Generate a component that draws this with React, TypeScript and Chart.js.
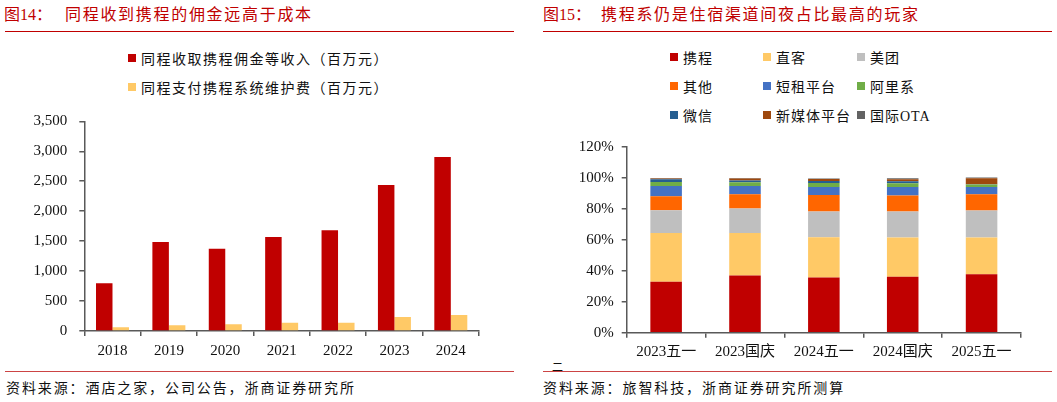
import { useEffect, useRef } from 'react';
import { Chart, registerables } from 'chart.js';

Chart.register(...registerables);

// left panel: 同程 vs 携程
const years = ['2018', '2019', '2020', '2021', '2022', '2023', '2024'];
const commission = [795, 1485, 1374, 1568, 1680, 2436, 2903];
const systemFee = [61, 95, 111, 139, 139, 234, 267];
const leftTicks = [0, 500, 1000, 1500, 2000, 2500, 3000, 3500];

// right panel: 间夜占比 (%)
const periods = ['2023五一', '2023国庆', '2024五一', '2024国庆', '2025五一'];
const ctrip = [32.9, 37.0, 35.7, 36.1, 37.7];
const direct = [31.6, 27.5, 26.0, 25.4, 23.8];
const meituan = [14.7, 15.8, 16.7, 16.9, 17.5];
const others = [8.9, 9.1, 10.6, 10.3, 10.4];
const shortRent = [6.7, 5.4, 5.2, 5.5, 4.8];
const alibaba = [2.6, 2.4, 2.6, 2.3, 1.5];
const wechat = [1.7, 1.1, 1.3, 1.3, 0.3];
const newMedia = [0.5, 1.3, 1.3, 1.3, 3.8];
const intlOta = [0.4, 0.4, 0.3, 0.7, 0.5];

const RED = '#c00000';
const TICK_FONT = { family: "'Liberation Serif', 'Noto Sans CJK SC', serif", size: 15 };
const TEXT_FONT = "'Liberation Serif', 'Noto Sans CJK SC', serif";
const AXIS = '#595959';

const stackSeries = [
  { label: '携程', data: ctrip, color: '#c00000' },
  { label: '直客', data: direct, color: '#ffc966' },
  { label: '美团', data: meituan, color: '#bfbfbf' },
  { label: '其他', data: others, color: '#ff6600' },
  { label: '短租平台', data: shortRent, color: '#4472c4' },
  { label: '阿里系', data: alibaba, color: '#70ad47' },
  { label: '微信', data: wechat, color: '#255e91' },
  { label: '新媒体平台', data: newMedia, color: '#9e480e' },
  { label: '国际OTA', data: intlOta, color: '#636363' },
];

function axisBase(yWidth: number, xHeight: number) {
  return {
    x: {
      grid: { display: true, drawOnChartArea: false, drawTicks: true, tickLength: 5, color: AXIS, lineWidth: 1.5 },
      border: { display: true, color: AXIS, width: 1.5 },
      ticks: { font: TICK_FONT, color: '#111', padding: 6, maxRotation: 0, autoSkip: false },
      afterFit: (s: any) => { s.height = xHeight; },
    },
    y: {
      grid: { display: true, drawOnChartArea: false, drawTicks: true, tickLength: 5, color: AXIS, lineWidth: 1.5 },
      border: { display: true, color: AXIS, width: 1.5 },
      // fixed width; keep label padding from pushing the plot area down
      afterFit: (s: any) => { s.width = yWidth; s.paddingTop = 9; s.paddingBottom = 9; },
    },
  };
}

function LeftChart() {
  const ref = useRef<HTMLCanvasElement>(null);
  useEffect(() => {
    if (!ref.current) return;
    const base = axisBase(84.3, 29);
    const chart = new Chart(ref.current, {
      type: 'bar',
      data: {
        labels: years,
        datasets: [
          { label: '同程收取携程佣金等收入（百万元）', data: commission, backgroundColor: RED, categoryPercentage: 0.585, barPercentage: 1 },
          { label: '同程支付携程系统维护费（百万元）', data: systemFee, backgroundColor: '#ffc966', categoryPercentage: 0.585, barPercentage: 1 },
        ],
      },
      options: {
        responsive: false,
        animation: false,
        layout: { padding: { top: 11.3, right: 21, left: 0, bottom: 0 } },
        plugins: { legend: { display: false }, tooltip: { enabled: false } },
        scales: {
          x: base.x,
          y: {
            ...base.y,
            min: 0,
            max: leftTicks[leftTicks.length - 1],
            afterBuildTicks: (s: any) => { s.ticks = leftTicks.map((v) => ({ value: v })); },
            ticks: {
              font: TICK_FONT,
              color: '#111',
              padding: 12,
              callback: (v: any) => Number(v).toLocaleString('en-US'),
            },
          },
        } as any,
      },
    });
    return () => chart.destroy();
  }, []);
  return <canvas ref={ref} width={500} height={250} style={{ position: 'absolute', left: 0, top: 110, width: 500, height: 250 }} />;
}

function RightChart() {
  const ref = useRef<HTMLCanvasElement>(null);
  useEffect(() => {
    if (!ref.current) return;
    const base = axisBase(86.7, 27.3);
    const chart = new Chart(ref.current, {
      type: 'bar',
      data: {
        labels: periods,
        datasets: stackSeries.map((s) => ({
          label: s.label,
          data: s.data,
          backgroundColor: s.color,
          categoryPercentage: 0.4,
          barPercentage: 1,
        })),
      },
      options: {
        responsive: false,
        animation: false,
        layout: { padding: { top: 37, right: 36, left: 0, bottom: 0 } },
        plugins: { legend: { display: false }, tooltip: { enabled: false } },
        scales: {
          x: { ...base.x, stacked: true, ticks: { ...base.x.ticks, padding: 5.3 } },
          y: {
            ...base.y,
            stacked: true,
            min: 0,
            max: 120,
            ticks: { font: TICK_FONT, color: '#111', padding: 8, stepSize: 20, callback: (v: any) => v + '%' },
          },
        } as any,
      },
    });
    return () => chart.destroy();
  }, []);
  return <canvas ref={ref} width={517} height={250} style={{ position: 'absolute', left: 540, top: 110, width: 517, height: 250 }} />;
}

function Swatch({ x, y, color, text, size = 14, spacing = 1.2 }: { x: number; y: number; color: string; text: string; size?: number; spacing?: number }) {
  return (
    <div style={{ position: 'absolute', left: x, top: y - 10, height: 20, display: 'flex', alignItems: 'center', whiteSpace: 'nowrap' }}>
      <span style={{ width: 8, height: 8, background: color, display: 'inline-block', marginRight: 5 }} />
      <span style={{ fontSize: size, letterSpacing: spacing, color: '#111', fontFamily: TEXT_FONT }}>{text}</span>
    </div>
  );
}

const abs = (l: number, t: number): React.CSSProperties => ({ position: 'absolute', left: l, top: t, whiteSpace: 'nowrap' });

export default function App() {
  const titleStyle: React.CSSProperties = { fontSize: 16, color: RED, fontFamily: TEXT_FONT, lineHeight: '16px' };
  const srcStyle: React.CSSProperties = { fontSize: 14, letterSpacing: 1.9, color: '#111', fontFamily: TEXT_FONT, lineHeight: '16px' };
  const rightCols = [670, 763, 857];
  const rightRows = [57, 85.5, 114.5];
  return (
    <div style={{ position: 'absolute', left: 0, top: 0, width: 1057, height: 402, background: '#fff', overflow: 'hidden' }}>
      {/* left panel */}
      <div style={{ ...abs(4, 7), ...titleStyle }}>图14：</div>
      <div style={{ ...abs(65, 7), ...titleStyle, letterSpacing: 1.7 }}>同程收到携程的佣金远高于成本</div>
      <div style={{ position: 'absolute', left: 5, top: 31, width: 509, height: 1, background: RED }} />
      <Swatch x={128} y={58} color={RED} text="同程收取携程佣金等收入（百万元）" spacing={1.5} />
      <Swatch x={128} y={86.5} color="#ffc966" text="同程支付携程系统维护费（百万元）" spacing={1.5} />
      <LeftChart />
      <div style={{ position: 'absolute', left: 5, top: 371, width: 509, height: 1, background: '#cc4444' }} />
      <div style={{ ...abs(6, 381), ...srcStyle }}>资料来源：酒店之家，公司公告，浙商证券研究所</div>

      {/* right panel */}
      <div style={{ ...abs(543, 7), ...titleStyle }}>图15：</div>
      <div style={{ ...abs(601, 7), ...titleStyle, letterSpacing: 1.7 }}>携程系仍是住宿渠道间夜占比最高的玩家</div>
      <div style={{ position: 'absolute', left: 543, top: 31, width: 509, height: 1, background: RED }} />
      {stackSeries.map((s, i) => (
        <Swatch key={s.label} x={rightCols[i % 3]} y={rightRows[Math.floor(i / 3)]} color={s.color} text={s.label} spacing={1} />
      ))}
      <RightChart />
      <div style={{ ...abs(552, 362), fontSize: 11, color: '#111', fontFamily: TEXT_FONT, lineHeight: '11px' }}>二</div>
      <div style={{ position: 'absolute', left: 543, top: 371, width: 509, height: 1, background: '#cc4444' }} />
      <div style={{ ...abs(543, 381), ...srcStyle }}>资料来源：旅智科技，浙商证券研究所测算</div>
    </div>
  );
}
